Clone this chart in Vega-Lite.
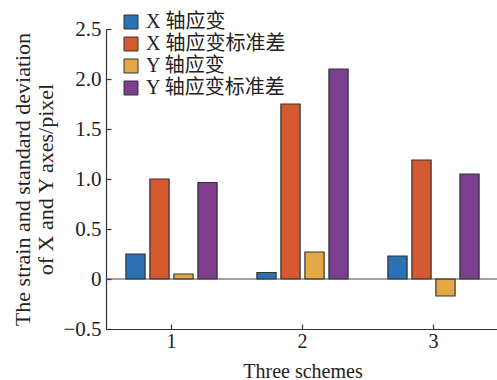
{
  "$schema": "https://vega.github.io/schema/vega-lite/v6.json",
  "autosize": "none",
  "width": 393,
  "height": 300,
  "padding": {"left": 106, "top": 29, "right": 0, "bottom": 51},
  "background": "white",
  "config": {
    "view": {"stroke": null},
    "font": "Liberation Serif",
    "axis": {"grid": false, "domainColor": "#333333", "tickColor": "#333333", "labelColor": "#222222", "titleColor": "#222222", "labelFont": "Liberation Serif", "titleFont": "Liberation Serif", "titleFontWeight": "normal", "domainWidth": 1.2, "tickWidth": 1.2}
  },
  "data": {"values": [
    {"scheme": "1", "series": "X 轴应变", "value": 0.25},
    {"scheme": "1", "series": "X 轴应变标准差", "value": 1.0},
    {"scheme": "1", "series": "Y 轴应变", "value": 0.05},
    {"scheme": "1", "series": "Y 轴应变标准差", "value": 0.965},
    {"scheme": "2", "series": "X 轴应变", "value": 0.065},
    {"scheme": "2", "series": "X 轴应变标准差", "value": 1.75},
    {"scheme": "2", "series": "Y 轴应变", "value": 0.27},
    {"scheme": "2", "series": "Y 轴应变标准差", "value": 2.1},
    {"scheme": "3", "series": "X 轴应变", "value": 0.23},
    {"scheme": "3", "series": "X 轴应变标准差", "value": 1.19},
    {"scheme": "3", "series": "Y 轴应变", "value": -0.17},
    {"scheme": "3", "series": "Y 轴应变标准差", "value": 1.05}
  ]},
  "layer": [
    {
      "mark": {"type": "bar", "stroke": "#333333", "strokeWidth": 1.2},
      "encoding": {
        "x": {"field": "scheme", "type": "nominal", "sort": ["1", "2", "3"],
          "scale": {"paddingInner": 0.267, "paddingOuter": 0.1335},
          "axis": {"title": "Three schemes", "labelAngle": 0, "labelFontSize": 20, "titleFontSize": 20, "tickSize": -5, "labelPadding": 7, "titleY": 48, "titleBaseline": "alphabetic"}},
        "xOffset": {"field": "series", "type": "nominal", "sort": ["X 轴应变", "X 轴应变标准差", "Y 轴应变", "Y 轴应变标准差"],
          "scale": {"paddingInner": 0.2, "paddingOuter": 0.1}},
        "y": {"field": "value", "type": "quantitative",
          "scale": {"domain": [-0.5, 2.5], "nice": false, "zero": false},
          "axis": {"values": [-0.5, 0, 0.5, 1, 1.5, 2, 2.5], "labelExpr": "datum.value == 0 ? '0' : format(datum.value, '.1f')", "labelFontSize": 21, "tickSize": -5, "labelPadding": 10,
            "title": ["The strain and standard deviation", "of X and Y axes/pixel"], "titleFontSize": 22, "titleLineHeight": 23, "titleX": -72, "titleY": 150, "titleAngle": -90, "titleBaseline": "bottom", "titleAlign": "center"}},
        "color": {"field": "series", "type": "nominal", "sort": ["X 轴应变", "X 轴应变标准差", "Y 轴应变", "Y 轴应变标准差"],
          "scale": {"range": ["#2B72B5", "#D35A30", "#E3A843", "#7C3F8E"]},
          "legend": {"title": null, "orient": "none", "legendX": 15, "legendY": -17, "symbolType": "square", "symbolSize": 196, "symbolStrokeColor": "#333333", "symbolStrokeWidth": 1, "symbolOpacity": 1, "labelFontSize": 20, "labelFont": "Liberation Serif, Noto Sans CJK SC", "labelColor": "#222222", "rowPadding": 2, "labelOffset": 5}}
      }
    },
    {
      "data": {"values": [{"zero": 0}]},
      "mark": {"type": "rule", "color": "#444444", "strokeWidth": 1.2},
      "encoding": {"y": {"field": "zero", "type": "quantitative"}}
    }
  ]
}
